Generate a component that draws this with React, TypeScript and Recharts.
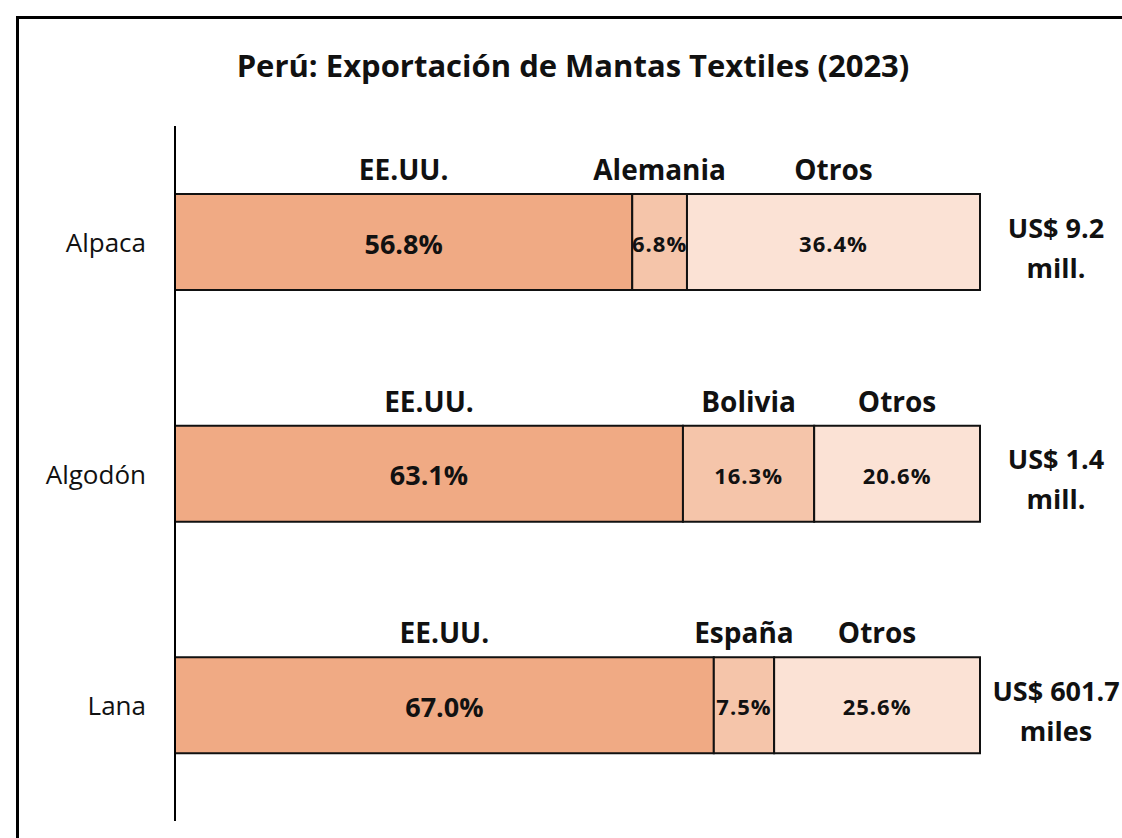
import { BarChart, Bar, XAxis, YAxis, LabelList } from 'recharts'

const categories = ['Alpaca', 'Algodón', 'Lana']
const usa = [56.8, 63.1, 67.0]
const second = [6.8, 16.3, 7.5]
const otros = [36.4, 20.6, 25.6]
const firstNames = ['EE.UU.', 'EE.UU.', 'EE.UU.']
const secondNames = ['Alemania', 'Bolivia', 'España']
const otherNames = ['Otros', 'Otros', 'Otros']
const totalTop = ['US$ 9.2', 'US$ 1.4', 'US$ 601.7']
const totalBottom = ['mill.', 'mill.', 'miles']

const FONT = '"Open Sans", Lato, sans-serif'
const COLORS = ['#F0AA84', '#F5C5AA', '#FBE2D5']

const data = categories.map((c, i) => ({ name: c, usa: usa[i], second: second[i], otros: otros[i] }))

const valueLists = [usa, second, otros]
const nameLists = [firstNames, secondNames, otherNames]

function segLabels(k: number) {
  return (p: any) => {
    const { x, y, width, height, index } = p
    const cx = x + width / 2
    const cy = y + height / 2
    return (
      <g>
        <text x={cx} y={y - 25} textAnchor="middle" dominantBaseline="central" fontFamily={FONT} fontWeight={700} fontSize={28} fill="#111">
          {nameLists[k][index]}
        </text>
        <text x={cx} y={cy + 1} textAnchor="middle" dominantBaseline="central" fontFamily={FONT} fontWeight={700} fontSize={k === 0 ? 27 : 22} letterSpacing={k === 0 ? 0 : 1} fill="#111">
          {valueLists[k][index].toFixed(1)}%
        </text>
      </g>
    )
  }
}

function totalLabel(p: any) {
  const { x, y, width, height, index } = p
  const cx = x + width + 76
  const cy = y + height / 2
  return (
    <g fontFamily={FONT} fontWeight={700} fontSize={27} fill="#111" textAnchor="middle">
      <text x={cx} y={cy - 15} dominantBaseline="central">{totalTop[index]}</text>
      <text x={cx} y={cy + 25} dominantBaseline="central">{totalBottom[index]}</text>
    </g>
  )
}

function CatTick(p: any) {
  const { x, y, payload } = p
  return (
    <text x={x - 21} y={y} textAnchor="end" dominantBaseline="central" fontFamily={FONT} fontSize={26} fill="#111">
      {payload.value}
    </text>
  )
}

export default function App() {
  return (
    <div style={{ position: 'absolute', left: 0, top: 0, width: 1122, height: 838, overflow: 'hidden', background: '#fff' }}>
      <div style={{ position: 'absolute', left: 16, top: 16, width: 1200, height: 900, border: '3px solid #000' }} />
      <div style={{ position: 'absolute', left: 0, top: 44, width: 1146, textAlign: 'center', fontFamily: FONT, fontWeight: 700, fontSize: 31, color: '#111' }}>
        Perú: Exportación de Mantas Textiles (2023)
      </div>
      <div style={{ position: 'absolute', left: 0, top: 0 }}>
        <BarChart width={1122} height={838} data={data} layout="vertical" stackOffset="expand"
          margin={{ top: 126, right: 142, bottom: 17, left: 0 }}>
          <XAxis type="number" hide domain={[0, 1]} />
          <YAxis type="category" dataKey="name" width={175} tickLine={false}
            axisLine={{ stroke: '#000', strokeWidth: 2 }} tick={<CatTick />} />
          <Bar dataKey="usa" stackId="a" fill={COLORS[0]} stroke="#111" strokeWidth={2} barSize={96} isAnimationActive={false}>
            <LabelList dataKey="usa" content={segLabels(0)} />
          </Bar>
          <Bar dataKey="second" stackId="a" fill={COLORS[1]} stroke="#111" strokeWidth={2} barSize={96} isAnimationActive={false}>
            <LabelList dataKey="second" content={segLabels(1)} />
          </Bar>
          <Bar dataKey="otros" stackId="a" fill={COLORS[2]} stroke="#111" strokeWidth={2} barSize={96} isAnimationActive={false}>
            <LabelList dataKey="otros" content={segLabels(2)} />
            <LabelList dataKey="otros" content={totalLabel} />
          </Bar>
        </BarChart>
      </div>
    </div>
  )
}
